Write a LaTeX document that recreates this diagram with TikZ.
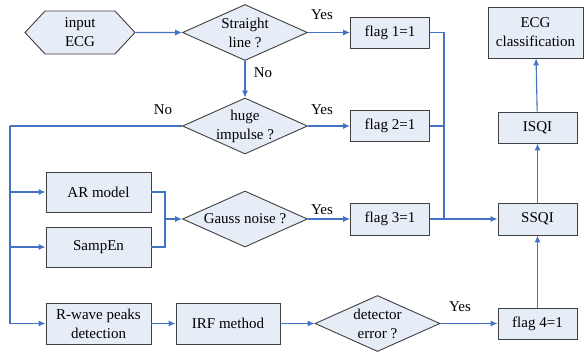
\documentclass[tikz,border=0pt]{standalone}
\usepackage{fontspec}
\setmainfont{Liberation Serif}
\usetikzlibrary{shapes.geometric,shapes.symbols,arrows.meta}
\definecolor{boxfill}{RGB}{230,237,247}
\definecolor{flowblue}{RGB}{68,114,196}
\definecolor{boxline}{RGB}{64,64,64}

\begin{document}
\begin{tikzpicture}[x=1pt,y=-1pt,
  font=\fontsize{15}{19}\selectfont,
  blk/.style={draw=boxline,fill=boxfill,line width=0.9pt,align=center,inner sep=0pt},
  box/.style={blk,minimum width=79pt,minimum height=31pt},
  widebox/.style={blk,minimum width=105pt,minimum height=40pt},
  decision/.style={blk,diamond,minimum width=125pt,minimum height=56pt,aspect=2.2},
  flow/.style={draw=flowblue,line width=1.1pt,-{Latex[length=7pt,width=6pt]}},
  wire/.style={draw=flowblue,line width=1.1pt}]
\useasboundingbox (0,0) rectangle (584,354);
% input and the first two checks
\node[blk,signal,signal to=west and east,signal pointer angle=94,minimum width=110pt,minimum height=43pt] (in) at (80,32.5) {input\\ECG};
\node[decision,label={[align=center]center:Straight\\line ?}] (str) at (245,32.5) {};
\node[decision,label={[align=center]center:huge\\impulse ?}] (imp) at (245,126) {};
\node[box] (f1) at (390,32.5) {flag 1=1};
\node[box] (f2) at (390,126) {flag 2=1};
% noise branch
\node[widebox] (ar) at (98.5,192) {AR model};
\node[widebox] (se) at (98.5,247) {SampEn};
\node[decision,label={center:Gauss noise ?}] (gn) at (245,219) {};
\node[box,minimum height=32pt] (f3) at (390,219) {flag 3=1};
% detector branch
\node[widebox,minimum height=41pt] (rw) at (98.5,323.5) {R-wave peaks\\detection};
\node[blk,minimum width=104pt,minimum height=41pt] (irf) at (228,323.5) {IRF method};
\node[decision,label={[align=center]center:detector\\error ?}] (det) at (377.5,323.5) {};
\node[box] (f4) at (537.5,323.5) {flag 4=1};
% quality indices
\node[box,minimum height=32pt] (ss) at (537.5,219) {SSQI};
\node[box] (isqi) at (537.5,127.5) {ISQI};
\node[blk,minimum width=95pt,minimum height=51pt] (cls) at (535.5,32.5) {ECG\\classification};
% labels
\node (yesA) at (322,15) {Yes};
\node (yesB) at (322,110) {Yes};
\node (yesC) at (322,210) {Yes};
\node (yesD) at (460,307) {Yes};
\node (noA) at (263,73) {No};
\node (noB) at (163,110) {No};
% connectors
\coordinate (lt) at (10,126);
\coordinate (mg) at (165,219);
\coordinate (jn) at (444,219);
\draw[flow] (in) -- (str);
\draw[flow] (str) -- (f1);
\draw[flow] (str) -- (imp);
\draw[flow] (imp) -- (f2);
\draw[wire] (imp) -- (lt);
\draw[flow] (lt) |- (ar);
\draw[flow] (lt) |- (se);
\draw[flow] (lt) |- (rw);
\draw[wire] (ar) -| (mg);
\draw[wire] (se) -| (mg);
\draw[flow] (mg) -- (gn);
\draw[flow] (gn) -- (f3);
\draw[wire] (f1) -| (jn);
\draw[wire] (f2) -| (jn);
\draw[flow] (f3) -- (ss);
\draw[flow] (rw) -- (irf);
\draw[flow] (irf) -- (det);
\draw[flow] (det) -- (f4);
\draw[flow] (f4) -- (ss);
\draw[flow] (ss) -- (isqi);
\draw[flow] (isqi) -- (cls);
\end{tikzpicture}
\end{document}
